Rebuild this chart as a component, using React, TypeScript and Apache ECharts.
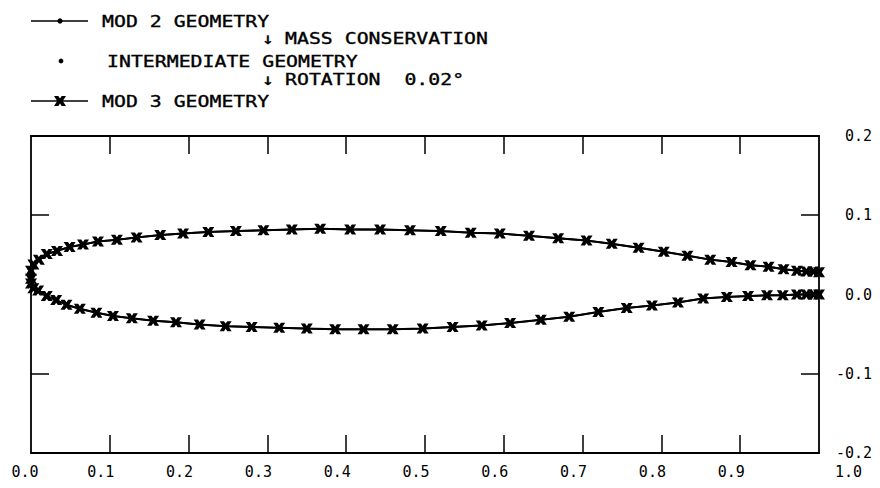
import React, { useEffect, useRef } from "react";
import * as echarts from "echarts";

// Upper surface, leading edge -> trailing edge (x/c, y/c)
const upperX = [0.000, 0.000, 0.003, 0.010, 0.020, 0.033, 0.049, 0.066, 0.085, 0.109, 0.134, 0.164, 0.193, 0.225, 0.260, 0.295, 0.331, 0.367, 0.405, 0.443, 0.481, 0.520, 0.558, 0.595, 0.632, 0.669, 0.705, 0.737, 0.771, 0.803, 0.833, 0.862, 0.889, 0.913, 0.936, 0.955, 0.972, 0.984, 0.993, 1.000];
const upperY = [0.020, 0.030, 0.038, 0.044, 0.051, 0.055, 0.060, 0.063, 0.067, 0.069, 0.072, 0.075, 0.077, 0.079, 0.080, 0.081, 0.082, 0.083, 0.082, 0.082, 0.081, 0.080, 0.078, 0.077, 0.074, 0.071, 0.068, 0.064, 0.059, 0.054, 0.049, 0.044, 0.041, 0.037, 0.035, 0.032, 0.030, 0.029, 0.029, 0.028];

// Lower surface, leading edge -> trailing edge
const lowerX = [0.000, 0.003, 0.009, 0.020, 0.032, 0.045, 0.062, 0.083, 0.104, 0.128, 0.155, 0.184, 0.214, 0.247, 0.280, 0.315, 0.350, 0.386, 0.422, 0.459, 0.497, 0.535, 0.572, 0.608, 0.647, 0.683, 0.720, 0.756, 0.788, 0.821, 0.853, 0.883, 0.910, 0.934, 0.954, 0.972, 0.984, 0.993, 1.000];
const lowerY = [0.014, 0.008, 0.005, -0.002, -0.007, -0.013, -0.018, -0.023, -0.027, -0.030, -0.033, -0.035, -0.038, -0.040, -0.041, -0.042, -0.043, -0.044, -0.044, -0.044, -0.043, -0.041, -0.039, -0.036, -0.032, -0.028, -0.022, -0.017, -0.014, -0.010, -0.005, -0.003, -0.002, -0.001, -0.001, 0.000, 0.000, 0.000, 0.000];

const xTicks = [0.1, 0.2, 0.3, 0.4, 0.5, 0.6, 0.7, 0.8, 0.9];
const yTicks = [-0.1, 0.1];

const legendNames = ["MOD 2 GEOMETRY", "INTERMEDIATE GEOMETRY", "MOD 3 GEOMETRY"];
const legendNotes = ["MASS CONSERVATION", "ROTATION  0.02°"];

const FONT = "DejaVu Sans Mono";
const CROSS = "path://M0,0 L3.6,0 L5,2.4 L6.4,0 L10,0 L7.3,5 L10,10 L6.4,10 L5,7.6 L3.6,10 L0,10 L2.7,5 Z";
const CROSS_RAW = [[0, 0], [3.6, 0], [5, 2.4], [6.4, 0], [10, 0], [7.3, 5], [10, 10], [6.4, 10], [5, 7.6], [3.6, 10], [0, 10], [2.7, 5]];

// One open contour: trailing edge along the upper surface to the nose, then back along the lower surface
function contour(): number[][] {
  const pts: number[][] = [];
  for (let i = upperX.length - 1; i >= 0; i--) pts.push([upperX[i], upperY[i]]);
  for (let i = 0; i < lowerX.length; i++) pts.push([lowerX[i], lowerY[i]]);
  return pts;
}

function crossPoints(cx: number, cy: number, w: number, h: number): number[][] {
  return CROSS_RAW.map(([a, b]) => [cx - w / 2 + (a * w) / 10, cy - h / 2 + (b * h) / 10]);
}

const AXIS_LINE = { color: "#000", width: 1.8 };
const TICK_LINE = { color: "#000", width: 1.5 };

export default function App() {
  const ref = useRef<HTMLDivElement>(null);

  useEffect(() => {
    if (!ref.current) return;
    const chart = echarts.init(ref.current, null, { renderer: "svg" });
    const data = contour();
    const textEl = (x: number, y: number, text: string) => ({
      type: "text",
      x,
      y,
      scaleX: 1.24,
      style: { text, fill: "#000", stroke: "#000", lineWidth: 0.35, font: `16px ${FONT}`, verticalAlign: "middle" },
    });
    const labelFont = { color: "#000", fontFamily: FONT, fontSize: 15, lineHeight: 14 };

    const rowMod2 = 21;
    const rowMass = 38;
    const rowInter = 61;
    const rowRot = 79;
    const rowMod3 = 101;

    chart.setOption({
      animation: false,
      backgroundColor: "#fff",
      grid: { left: 31, right: 61, top: 136, bottom: 35, outerBoundsMode: "none" },
      xAxis: [
        {
          type: "value",
          position: "bottom",
          min: 0,
          max: 1,
          interval: 0.1,
          axisLine: { onZero: false, lineStyle: AXIS_LINE },
          axisTick: { inside: true, length: 18, customValues: xTicks, lineStyle: TICK_LINE },
          axisLabel: {
            ...labelFont,
            margin: 12,
            padding: [0, 18, 0, 0],
            showMinLabel: true,
            showMaxLabel: true,
            alignMaxLabel: "left",
            formatter: (v: number) => {
              if (Math.abs(v - 1) < 1e-9) return "{last|1.0}";
              if (Math.abs(v) < 1e-9) return "{first|0.0}";
              return v.toFixed(1);
            },
            rich: {
              last: { ...labelFont, padding: [0, 0, 0, 16] },
              first: { ...labelFont, padding: [0, 0, 0, 6] },
            },
          },
          splitLine: { show: false },
        },
        {
          type: "value",
          position: "top",
          min: 0,
          max: 1,
          interval: 0.1,
          axisLine: { onZero: false, lineStyle: AXIS_LINE },
          axisTick: { inside: true, length: 18, customValues: xTicks, lineStyle: TICK_LINE },
          axisLabel: { show: false },
          splitLine: { show: false },
        },
      ],
      yAxis: [
        {
          type: "value",
          position: "right",
          min: -0.2,
          max: 0.2,
          interval: 0.1,
          axisLine: { show: true, onZero: false, lineStyle: AXIS_LINE },
          axisTick: { show: true, inside: true, length: 18, customValues: yTicks, lineStyle: TICK_LINE },
          axisLabel: {
            ...labelFont,
            align: "right",
            margin: 53,
            showMinLabel: true,
            showMaxLabel: true,
            formatter: (v: number) => v.toFixed(1),
          },
          splitLine: { show: false },
        },
        {
          type: "value",
          position: "left",
          min: -0.2,
          max: 0.2,
          interval: 0.1,
          axisLine: { show: true, onZero: false, lineStyle: AXIS_LINE },
          axisTick: { show: true, inside: true, length: 18, customValues: yTicks, lineStyle: TICK_LINE },
          axisLabel: { show: false },
          splitLine: { show: false },
        },
      ],
      series: [
        {
          name: legendNames[0],
          type: "line",
          data,
          symbol: "circle",
          symbolSize: 4,
          showAllSymbol: true,
          itemStyle: { color: "#000" },
          lineStyle: { color: "#000", width: 1.8 },
        },
        {
          name: legendNames[1],
          type: "scatter",
          data,
          symbol: "circle",
          symbolSize: 4,
          itemStyle: { color: "#000" },
        },
        {
          name: legendNames[2],
          type: "line",
          data,
          symbol: CROSS,
          symbolSize: [12, 10],
          showAllSymbol: true,
          itemStyle: { color: "#000" },
          lineStyle: { color: "#000", width: 2 },
          z: 5,
        },
      ],
      graphic: [
        // key: line with dots
        { type: "line", shape: { x1: 31, y1: rowMod2, x2: 88, y2: rowMod2 }, style: { stroke: "#000", lineWidth: 1.6 } },
        { type: "circle", shape: { cx: 60, cy: rowMod2, r: 2.6 }, style: { fill: "#000" } },
        textEl(102, rowMod2, legendNames[0]),
        textEl(262, rowMass, "↓"),
        textEl(285, rowMass, legendNotes[0]),
        // key: dots only
        { type: "circle", shape: { cx: 61, cy: rowInter, r: 2.4 }, style: { fill: "#000" } },
        textEl(107, rowInter, legendNames[1]),
        textEl(262, rowRot, "↓"),
        textEl(285, rowRot, legendNotes[1]),
        // key: line with crosses
        { type: "line", shape: { x1: 31, y1: rowMod3, x2: 88, y2: rowMod3 }, style: { stroke: "#000", lineWidth: 1.6 } },
        { type: "polygon", shape: { points: crossPoints(60, rowMod3, 12, 10) }, style: { fill: "#000" } },
        textEl(102, rowMod3, legendNames[2]),
      ],
    });

    return () => chart.dispose();
  }, []);

  return <div ref={ref} style={{ width: 880, height: 488, position: "absolute", left: 0, top: 0 }} />;
}
